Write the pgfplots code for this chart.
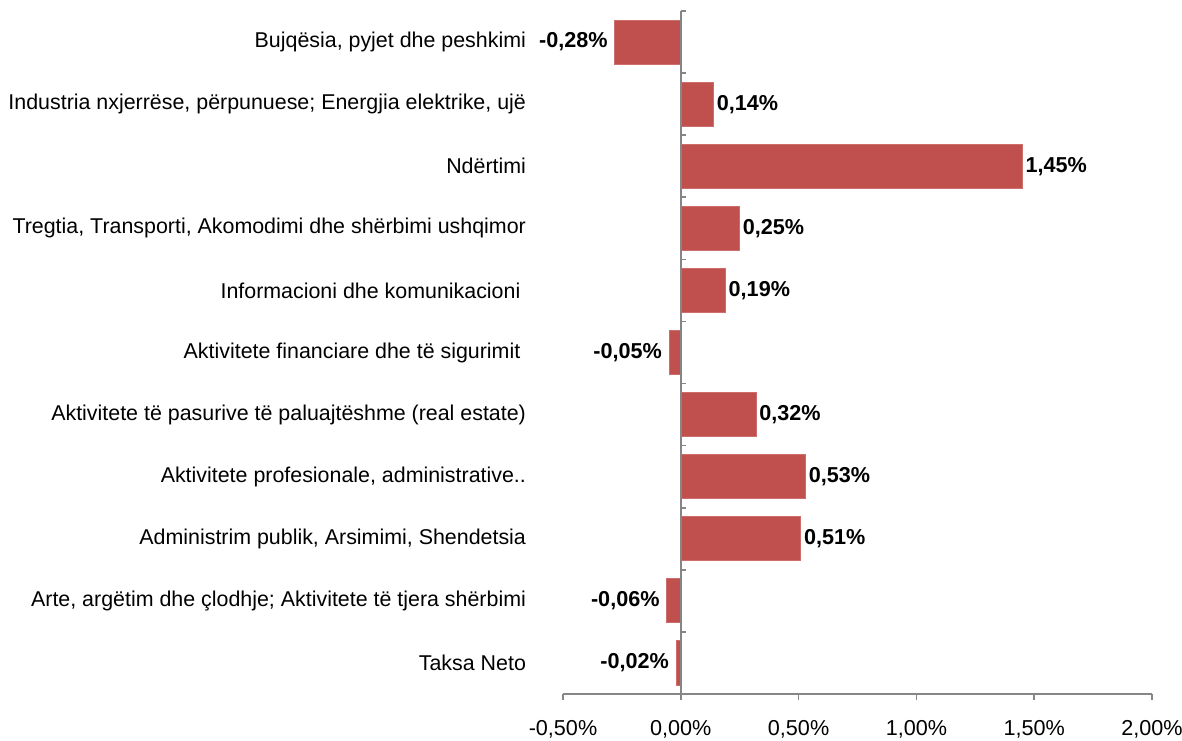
\documentclass[border=0pt]{standalone}
\usepackage{pgfplots}
\pgfplotsset{compat=1.18}
\usepackage{fontspec}
\setmainfont{Liberation Sans}
\definecolor{barred}{RGB}{192,80,77}
\definecolor{baredge}{RGB}{205,110,106}
\definecolor{axgray}{RGB}{134,134,134}
\begin{document}
\begin{tikzpicture}
\begin{axis}[
  scale only axis,
  width=294.5pt, height=341.5pt,
  xmin=-0.5, xmax=2.0,
  ymin=-0.5, ymax=10.5,
  axis x line*=bottom,
  axis y line*=left,
  y axis line style={draw=none},
  x axis line style={axgray, line width=0.8pt},
  xtick={-0.5,0,0.5,1,1.5,2},
  xtick align=outside,
  major tick length=3pt,
  xtick style={axgray, line width=0.8pt},
  /pgf/number format/assume math mode=true,
  xticklabel={\pgfmathprintnumber[fixed,fixed zerofill,precision=2,use comma]{\tick}\%},
  xticklabel style={font=\fontsize{10.8}{12}\selectfont, yshift=-6.5pt},
  ytick={0,...,10},
  yticklabels={Taksa Neto,
    {Arte, argëtim dhe çlodhje; Aktivitete të tjera shërbimi},
    {Administrim publik, Arsimimi, Shendetsia},
    {Aktivitete profesionale, administrative..},
    {Aktivitete të pasurive të paluajtëshme (real estate)},
    {Aktivitete financiare dhe të sigurimit\kern2.8pt},
    {Informacioni dhe komunikacioni\kern2.8pt},
    {Tregtia, Transporti, Akomodimi dhe shërbimi ushqimor},
    Ndërtimi,
    {Industria nxjerrëse, përpunuese; Energjia elektrike, ujë},
    {Bujqësia, pyjet dhe peshkimi}},
  ytick style={draw=none},
  yticklabel style={font=\fontsize{10.7}{12}\selectfont, anchor=east, xshift=-12pt},
  xbar, bar width=0.71, bar shift=0pt,
  nodes near coords={\pgfmathprintnumber[fixed,fixed zerofill,precision=2,use comma]{\pgfplotspointmeta}\%},
  nodes near coords style={font=\fontsize{10.8}{12}\selectfont\bfseries},
  clip=false,
]
% positive values
\addplot[fill=barred, draw=baredge, line width=0.5pt,
  nodes near coords style={anchor=west, xshift=-2pt}] coordinates {
  (0.14,9) (1.45,8) (0.25,7) (0.19,6) (0.32,4) (0.53,3) (0.51,2)
};
% negative values
\addplot[fill=barred, draw=baredge, line width=0.5pt,
  nodes near coords style={anchor=east}] coordinates {
  (-0.28,10) (-0.05,5) (-0.06,1) (-0.02,0)
};
\draw[axgray, line width=0.8pt] (axis cs:0,-0.5) -- (axis cs:0,10.5);
\pgfplotsinvokeforeach{-0.5,0.5,1.5,2.5,3.5,4.5,5.5,6.5,7.5,8.5,9.5,10.5}{
  \draw[axgray, line width=0.8pt] (axis cs:0,#1) -- ([xshift=2.5pt]axis cs:0,#1);
}
\end{axis}
\pgfresetboundingbox
\path[use as bounding box] (-281.5pt,-23pt) rectangle (309.5pt,347pt);
\end{tikzpicture}
\end{document}
